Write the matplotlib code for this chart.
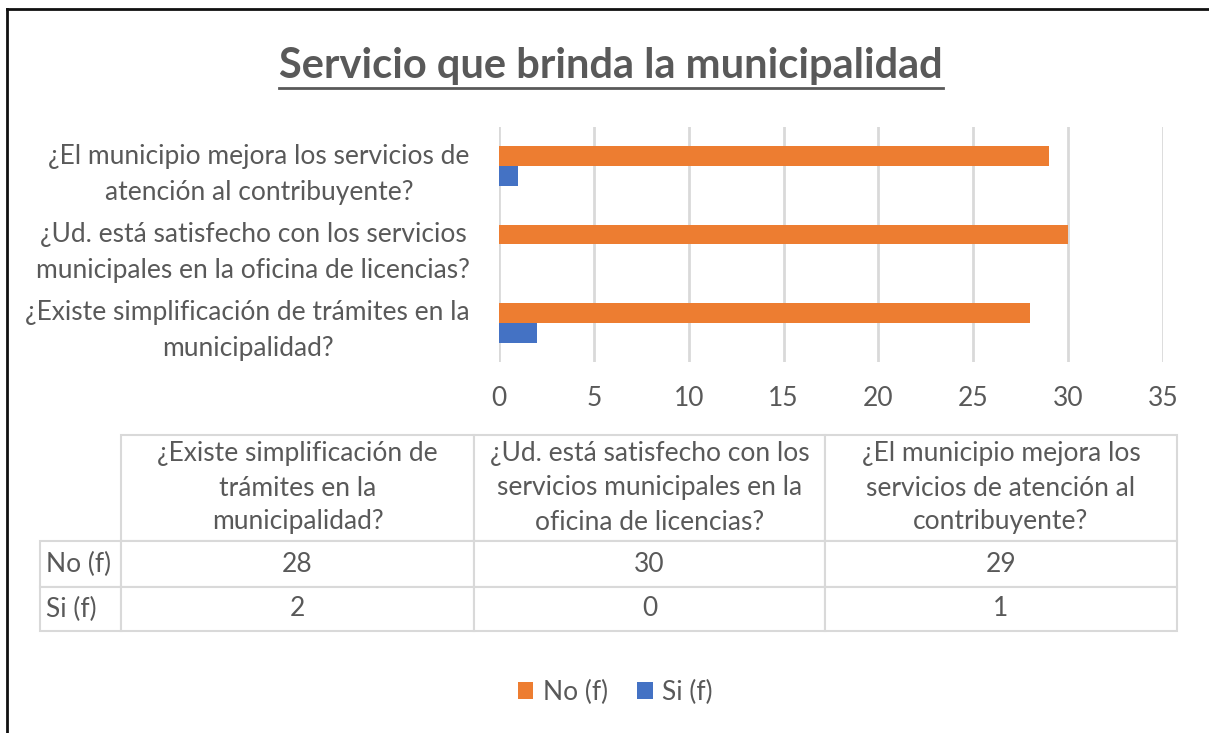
import matplotlib
matplotlib.use('Agg')
import matplotlib.pyplot as plt
from matplotlib.lines import Line2D
import numpy as np

plt.rcParams['font.family'] = ['Lato', 'DejaVu Sans']

# datos
preguntas = ['¿Existe simplificación de trámites en la\nmunicipalidad?',
             '¿Ud. está satisfecho con los servicios\nmunicipales en la oficina de licencias?',
             '¿El municipio mejora los servicios de\natención al contribuyente?']
preguntas_tabla = ['¿Existe simplificación de\ntrámites en la\nmunicipalidad?',
                   '¿Ud. está satisfecho con los\nservicios municipales en la\noficina de licencias?',
                   '¿El municipio mejora los\nservicios de atención al\ncontribuyente?']
no_f = [28, 30, 29]
si_f = [2, 0, 1]
series = ['No (f)', 'Si (f)']
xticks = [0, 5, 10, 15, 20, 25, 30, 35]

naranja = '#ED7D31'
azul = '#4472C4'
gris_txt = '#595959'
gris_lin = '#D9D9D9'
fs = 19

W, H = 1209, 733
fig = plt.figure(figsize=(W/100, H/100), dpi=100)

# grafico de barras
ax = fig.add_axes([499/W, 1-362/H, (1163-499)/W, (362-127)/H])
y = np.arange(len(preguntas))
h = 0.255
ax.barh(y + h/2, no_f, height=h, color=naranja, label=series[0])
ax.barh(y - h/2, si_f, height=h, color=azul, label=series[1])
ax.set_xlim(0, 35)
ax.set_ylim(-0.5, 2.5)
ax.set_xticks(xticks)
ax.set_yticks(y)
ax.set_yticklabels(preguntas, linespacing=1.55)
for lbl in ax.get_yticklabels():
    lbl.set_multialignment('center')
ax.tick_params(axis='both', length=0, labelsize=fs, labelcolor=gris_txt)
ax.tick_params(axis='y', pad=21)
ax.tick_params(axis='x', pad=17)
ax.grid(axis='x', color=gris_lin, lw=2)
ax.set_axisbelow(True)
for s in ax.spines.values():
    s.set_visible(False)

# titulo subrayado
t = fig.text(611/W, 1-66/H, 'Servicio que brinda la municipalidad', ha='center', va='center',
             fontsize=30, fontweight='bold', color=gris_txt)
fig.canvas.draw()
bb = t.get_window_extent(fig.canvas.get_renderer()).transformed(fig.transFigure.inverted())
fig.add_artist(Line2D([bb.x0, bb.x1], [bb.y0 - 0.004, bb.y0 - 0.004], color=gris_txt, lw=2))

# tabla de datos
tax = fig.add_axes([40/W, 1-631/H, (1177-40)/W, (631-435)/H])
tax.axis('off')
celdas = [[''] + preguntas_tabla,
          [series[0]] + [str(v) for v in no_f],
          [series[1]] + [str(v) for v in si_f]]
anchos = [81, 353, 351, 352]
altos = [106, 46, 44]
tbl = tax.table(cellText=celdas, colWidths=anchos, cellLoc='center', bbox=[0, 0, 1, 1])
tbl.auto_set_font_size(False)
for (r, c), cell in tbl.get_celld().items():
    cell.set_height(altos[r])
    cell.set_edgecolor(gris_lin)
    cell.set_linewidth(1.5)
    cell.get_text().set_fontsize(fs)
    cell.get_text().set_color(gris_txt)
    cell.get_text().set_linespacing(1.45)
    if c == 0:
        cell.get_text().set_ha('left')
        cell.PAD = 0.08
    if r == 0 and c == 0:
        cell.set_edgecolor('none')

# leyenda
fig.legend(loc='center', bbox_to_anchor=(615/W, 1-692/H), ncol=2, frameon=False,
           fontsize=fs, labelcolor=gris_txt, handlelength=0.6, handleheight=0.6,
           handletextpad=0.35, columnspacing=1.1)

# marco
fig.add_artist(Line2D([7/W, 1], [1-9/H, 1-9/H], color='#111111', lw=2))
fig.add_artist(Line2D([7/W, 7/W], [0, 1-9/H], color='#111111', lw=2))

fig.savefig('out.png', dpi=100)
